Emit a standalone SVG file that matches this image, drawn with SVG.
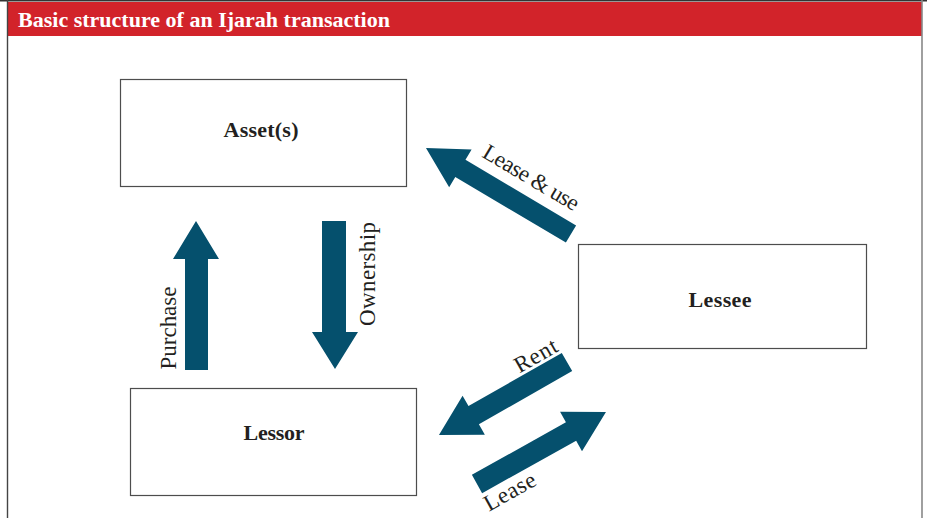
<svg xmlns="http://www.w3.org/2000/svg" width="927" height="518" viewBox="0 0 927 518">
<defs>
<style>
.box{fill:#fff;stroke:#4d4d4d;stroke-width:1.2}
.node{font-family:"Liberation Serif","Times New Roman",serif;font-weight:bold;font-size:22px;fill:#231f20;text-anchor:middle}
.lbl{font-family:"Liberation Serif","Times New Roman",serif;font-size:23px;fill:#231f20;text-anchor:middle}
.arr{fill:#05506d}
</style>
</defs>
<rect x="0" y="0" width="927" height="518" fill="#fff"/>
<rect x="7" y="2" width="915" height="34" fill="#d2232a"/>
<line x1="0" y1="0.8" x2="927" y2="0.8" stroke="#333" stroke-width="1.6"/>
<line x1="7.5" y1="0" x2="7.5" y2="518" stroke="#444" stroke-width="1.4"/>
<line x1="922" y1="0" x2="922" y2="518" stroke="#888" stroke-width="1.6"/>
<text x="18" y="27" font-family="'Liberation Serif','Times New Roman',serif" font-weight="bold" font-size="22" fill="#fff" textLength="372">Basic structure of an Ijarah transaction</text>

<g id="asset">
<rect class="box" x="120.5" y="79.5" width="286" height="107"/>
<text class="node" x="261" y="137" textLength="75">Asset(s)</text>
</g>
<g id="lessee">
<rect class="box" x="578.5" y="244.5" width="288" height="104"/>
<text class="node" x="720" y="307" textLength="63">Lessee</text>
</g>
<g id="lessor">
<rect class="box" x="130.5" y="388.5" width="286" height="107"/>
<text class="node" x="274" y="440" textLength="61">Lessor</text>
</g>

<g id="connectors">
<polygon class="arr" points="185,370 208,370 208,259 219,259 196,221 173,259 185,259"/>
<polygon class="arr" points="322,221 346,221 346,332 358,332 335,369 312,332 322,332"/>
<polygon class="arr" transform="translate(571,234) rotate(-149.33)" points="0,-10 128.6,-10 128.6,-22 168.6,0 128.6,22 128.6,10 0,10"/>
<polygon class="arr" transform="translate(567,362) rotate(150.3)" points="0,-10.5 107.4,-10.5 107.4,-22.5 147.4,0 107.4,22.5 107.4,10.5 0,10.5"/>
<polygon class="arr" transform="translate(477,484) rotate(-29.17)" points="0,-10.5 107.7,-10.5 107.7,-22.5 147.7,0 107.7,22.5 107.7,10.5 0,10.5"/>
<text class="lbl" transform="translate(176,328) rotate(-90)" textLength="83">Purchase</text>
<text class="lbl" transform="translate(375,274) rotate(-90)" textLength="104">Ownership</text>
<text class="lbl" transform="translate(531,178) rotate(30.67) translate(0,7)" textLength="108">Lease &amp; use</text>
<text class="lbl" transform="translate(536,356) rotate(-29.7) translate(0,7)" textLength="46">Rent</text>
<text class="lbl" transform="translate(510,492) rotate(-29.17) translate(0,7)" textLength="56">Lease</text>
</g>
</svg>
